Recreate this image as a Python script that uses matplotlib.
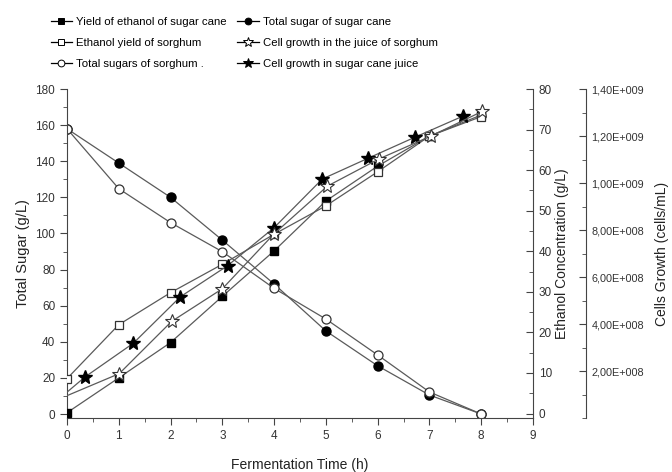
import numpy as np
import matplotlib.pyplot as plt
from matplotlib.ticker import MultipleLocator, FuncFormatter
from matplotlib.lines import Line2D

plt.rcParams['font.family'] = ['Liberation Sans', 'DejaVu Sans']
plt.rcParams['font.size'] = 8.5

# fermentation time (h)
t = [0, 1, 2, 3, 4, 5, 6, 7, 8]

# total sugar (g/L), left axis
sugar_cane = [158, 139, 120, 96.3, 72, 46, 26.7, 10.5, 0]
sugar_sorghum = [158, 124.8, 106, 89.9, 69.6, 52.6, 32.7, 12.2, 0]

# ethanol (g/L), right axis
etoh_cane = [0.2, 8.8, 17.5, 28.9, 40.1, 52.4, 61, 68.4, 73.6]
etoh_sorghum = [8.6, 21.9, 29.8, 36.8, 44.2, 51.2, 59.6, 68.4, 73.2]

# cells growth (cells/mL), second right axis
t_cells_cane = [0, 0.35, 1.28, 2.19, 3.10, 4.0, 4.93, 5.82, 6.73, 7.65]
cells_cane = [1.1e8, 1.75e8, 3.18e8, 5.16e8, 6.48e8, 8.1e8, 10.17e8, 11.06e8, 11.96e8, 12.85e8]
t_cells_sorghum = [0, 1.01, 2.02, 3.0, 4.0, 5.03, 6.02, 7.02, 8.02]
cells_sorghum = [0.95e8, 1.89e8, 4.11e8, 5.5e8, 7.84e8, 9.87e8, 11.02e8, 11.99e8, 13.05e8]

lc = '#5a5a5a'
lw = 0.9

fig = plt.figure(figsize=(6.72, 4.72), dpi=100)
ax = fig.add_axes([0.0997, 0.1144, 0.6935, 0.697])
ax2 = ax.twinx()
ax3 = ax.twinx()

# left axis: sugars
l_sc, = ax.plot(t, sugar_cane, color=lc, lw=lw, marker='o', ms=6.5,
                mfc='black', mec='black')
l_ss, = ax.plot(t, sugar_sorghum, color=lc, lw=lw, marker='o', ms=6.5,
                mfc='white', mec='#333333', mew=0.9)

# ethanol axis
l_ec, = ax2.plot(t, etoh_cane, color=lc, lw=lw, marker='s', ms=6,
                 mfc='black', mec='black')
l_es, = ax2.plot(t, etoh_sorghum, color=lc, lw=lw, marker='s', ms=6,
                 mfc='white', mec='#333333', mew=0.9)

# cells axis
l_cc, = ax3.plot(t_cells_cane, cells_cane, color=lc, lw=lw, marker='*', ms=10,
                 mfc='black', mec='black', markevery=list(range(1, len(t_cells_cane))))
l_cs, = ax3.plot(t_cells_sorghum, cells_sorghum, color=lc, lw=lw, marker='*', ms=10,
                 mfc='white', mec='#333333', mew=0.8,
                 markevery=list(range(1, len(t_cells_sorghum))))

ax.set_xlim(0, 9)
ax.set_ylim(-2.2, 180)
ax2.set_ylim(-1.1, 80)
ax3.set_ylim(0, 1.4e9)

ax.xaxis.set_major_locator(MultipleLocator(1))
ax.xaxis.set_minor_locator(MultipleLocator(0.5))
ax.yaxis.set_major_locator(MultipleLocator(20))
ax.yaxis.set_minor_locator(MultipleLocator(10))
ax2.yaxis.set_major_locator(MultipleLocator(10))
ax2.yaxis.set_minor_locator(MultipleLocator(5))
ax3.set_yticks([2e8, 4e8, 6e8, 8e8, 1.0e9, 1.2e9, 1.4e9])
ax3.yaxis.set_minor_locator(MultipleLocator(1e8))


def sci_comma(v, pos):
    m, e = f"{v:.2e}".split('e')
    return f"{m.replace('.', ',')}E+{int(e):03d}"


ax3.yaxis.set_major_formatter(FuncFormatter(sci_comma))

for a in (ax, ax2, ax3):
    a.spines['top'].set_visible(False)
for s in ('left', 'bottom'):
    ax.spines[s].set_color('#444444')
ax.spines['right'].set_visible(False)
ax2.spines['left'].set_visible(False)
ax3.spines['left'].set_visible(False)
ax3.spines['bottom'].set_visible(False)
ax2.spines['bottom'].set_visible(False)
ax2.spines['right'].set_color('#444444')
ax3.spines['right'].set_position(('outward', 38))
ax3.spines['right'].set_color('#444444')

ax.tick_params(axis='both', which='major', direction='out', length=5, color='#444444', labelcolor='#333333')
ax.tick_params(axis='both', which='minor', direction='out', length=3, color='#444444')
ax.tick_params(axis='y', right=False)
for a in (ax2, ax3):
    a.tick_params(axis='y', which='major', direction='in', length=5, pad=4,
                  color='#444444', labelcolor='#333333')
    a.tick_params(axis='y', which='minor', direction='in', length=3, color='#444444')
ax3.tick_params(axis='y', which='major', labelsize=7.8)

ax.set_xlabel('Fermentation Time (h)', fontsize=10, labelpad=12, color='#222222')
ax.set_ylabel('Total Sugar (g/L)', fontsize=10.5, labelpad=4, color='#222222')
ax2.set_ylabel('Ethanol Concentration (g/L)', fontsize=10, labelpad=2, color='#222222')
ax3.set_ylabel('Cells Growth (cells/mL)', fontsize=10, labelpad=8, color='#222222')

handles = [l_ec, l_es, l_ss, l_sc, l_cs, l_cc]
labels = ['Yield of ethanol of sugar cane', 'Ethanol yield of sorghum',
          'Total sugars of sorghum .', 'Total sugar of sugar cane',
          'Cell growth in the juice of sorghum', 'Cell growth in sugar cane juice']
leg_handles = [Line2D([0], [0], color='black', lw=0.9, marker=h.get_marker(),
                      ms=h.get_markersize() * 0.75, mfc=h.get_mfc(), mec='black', mew=0.7)
               for h in handles]
fig.legend(leg_handles, labels, ncol=2, loc='upper left', bbox_to_anchor=(0.06, 0.985),
           frameon=False, fontsize=8.2,
           handlelength=1.9, handletextpad=0.35, columnspacing=0.9, labelspacing=0.95)

plt.savefig('out.png', dpi=100)
